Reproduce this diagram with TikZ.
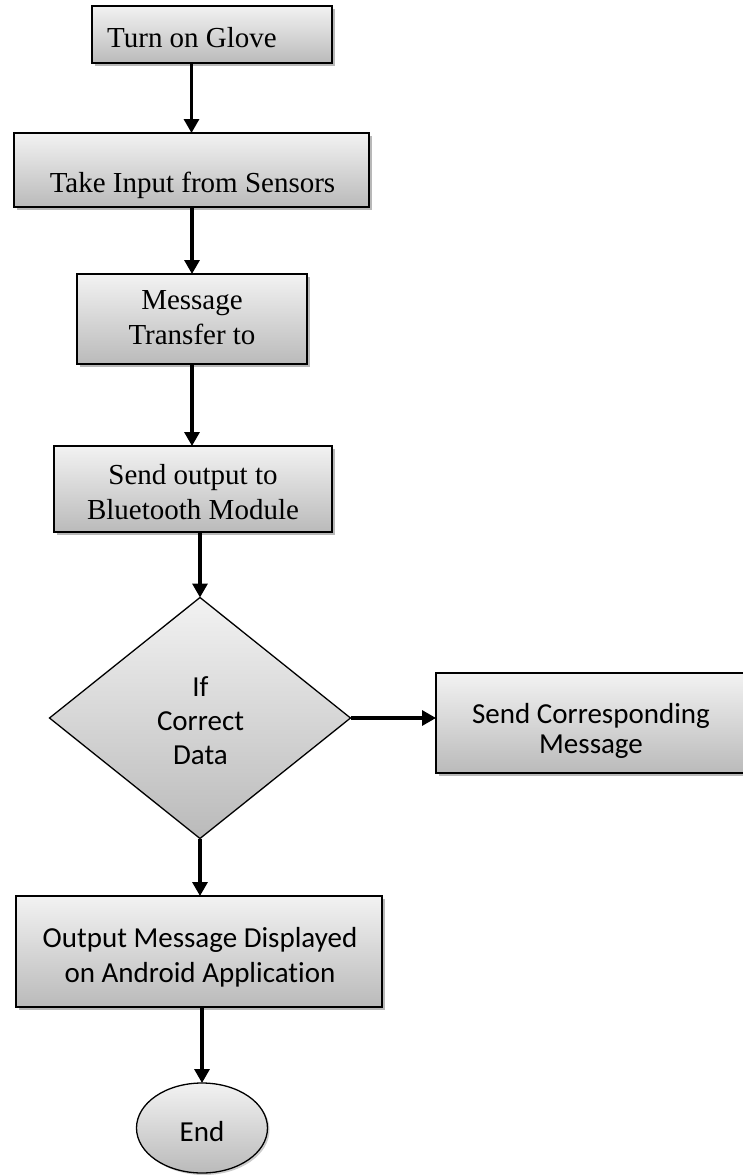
\documentclass[tikz,border=0pt]{standalone}
\usepackage{fontspec}
\setmainfont{Liberation Serif}
\newfontfamily\calfont[Ligatures=NoCommon]{Carlito}
\usetikzlibrary{shapes.geometric,arrows.meta,shadows}
\begin{document}
\begin{tikzpicture}[x=1pt,y=-1pt,
  shade box/.style={draw=black, line width=1.3pt, top color=black!5, bottom color=black!27, inner sep=0pt, outer sep=0pt},
  boxs/.style={shade box, rectangle, drop shadow={shadow xshift=3pt,shadow yshift=-3pt,opacity=0.28,fill=black}},
  serif/.style={font=\fontsize{29}{35}\selectfont, align=center, inner sep=0pt},
  sans/.style={font=\calfont\fontsize{29}{34}\selectfont, align=center, inner sep=0pt},
  arr/.style={line width=3.2pt, -{Triangle[length=14pt,width=15pt]}}
]
\useasboundingbox (0,0) rectangle (742,1175);

% shapes
\node[boxs, minimum width=240pt, minimum height=57pt] (b1) at (212,34.5) {};
\node[boxs, minimum width=355pt, minimum height=74pt] (b2) at (191.5,170) {};
\node[boxs, minimum width=230pt, minimum height=90pt] (b3) at (192,319) {};
\node[boxs, minimum width=278pt, minimum height=86pt] (b4) at (193,489) {};
\node[shade box, diamond, aspect=1.249, minimum width=301pt, minimum height=241pt] (d) at (200,718) {};
\node[boxs, minimum width=314pt, minimum height=100pt] (b5) at (593,723) {};
\node[boxs, minimum width=366pt, minimum height=111pt] (b6) at (199,951.5) {};
\node[shade box, ellipse, minimum width=131pt, minimum height=90pt,
      drop shadow={shadow xshift=2pt,shadow yshift=-2pt,opacity=0.2,fill=black}] (e) at (202,1128) {};

% texts
\node[serif] (t1) at (192,38) {Turn on Glove};
\node[serif] (t2) at (192.5,185) {Take Input from Sensors};
\node[serif] (t3) at (192,318) {Message\\Transfer to};
\node[serif] (t4) at (193,492.5) {Send output to\\Bluetooth Module};
\node[sans] (td) at (200.5,721) {If\\Correct\\Data};
\node[sans, font=\calfont\fontsize{29}{30}\selectfont] (t5) at (591,731) {Send Corresponding\\Message};
\node[sans, font=\calfont\fontsize{29}{35}\selectfont] (t6) at (200,957.5) {Output Message Displayed\\on Android Application};
\node[sans] (te) at (202,1132) {End};

% connectors
\draw[arr] (b1.south -| b2.north) -- (b2.north);
\draw[arr] (b2.south -| b3.north) -- (b3.north);
\draw[arr] (b3.south) -- (b4.north -| b3.south);
\draw[arr] (b4.south -| d.north) -- (d.north);
\draw[arr] (d.east) -- (d.east -| b5.west);
\draw[arr] (d.south) -- (b6.north -| d.south);
\draw[arr] (b6.south -| e.north) -- (e.north);
\end{tikzpicture}
\end{document}
